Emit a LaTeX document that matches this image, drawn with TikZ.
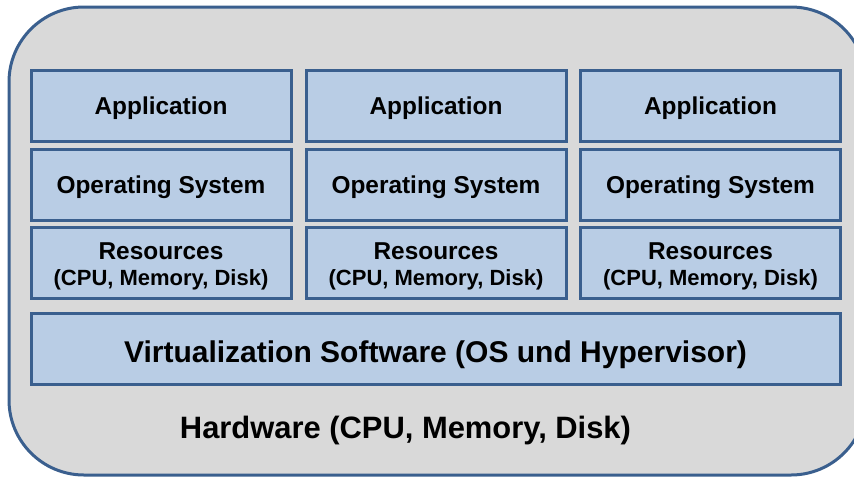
\documentclass[tikz,border=0pt]{standalone}
\usepackage{fontspec}
\setmainfont{Liberation Sans}
\definecolor{boxfill}{HTML}{B9CDE5}
\definecolor{boxline}{HTML}{3A5F8E}
\definecolor{outerfill}{HTML}{D9D9D9}
\begin{document}
\begin{tikzpicture}[x=1pt,y=-1pt,
  layer/.style={draw=boxline, fill=boxfill, line width=3pt, minimum width=260pt, minimum height=71pt, inner sep=0pt, align=center, text depth=0pt, font=\bfseries\fontsize{24.4}{26}\selectfont},
  single/.style={text height=17.6pt},
  big/.style={font=\bfseries\fontsize{30.5}{34}\selectfont}]
\useasboundingbox (0,0) rectangle (854,477);
\clip (0,0) rectangle (854,477);
\draw[draw=boxline, fill=outerfill, line width=3pt, rounded corners=75pt] (9,7) rectangle (866,475);
\foreach \c/\x in {1/161,2/436,3/710.5} {
  \node[layer, single] (app\c) at (\x,105.5) {Application};
  \node[layer, single] (os\c) at (\x,184.5) {Operating System};
  \node[layer] (res\c) at (\x,262.5) {\rule{0pt}{19pt}Resources\\{\fontsize{22}{26}\selectfont (CPU, Memory, Disk)}};
}
\node[layer, minimum width=809pt, text height=27pt, font=\bfseries\fontsize{30}{34}\selectfont] (virt) at (435.5,348.5) {Virtualization Software (OS und Hypervisor)};
\node[big, anchor=base, inner sep=0pt, font=\bfseries\fontsize{30.9}{34}\selectfont] (hw) at (405.5,438) {Hardware (CPU, Memory, Disk)};
\end{tikzpicture}
\end{document}
